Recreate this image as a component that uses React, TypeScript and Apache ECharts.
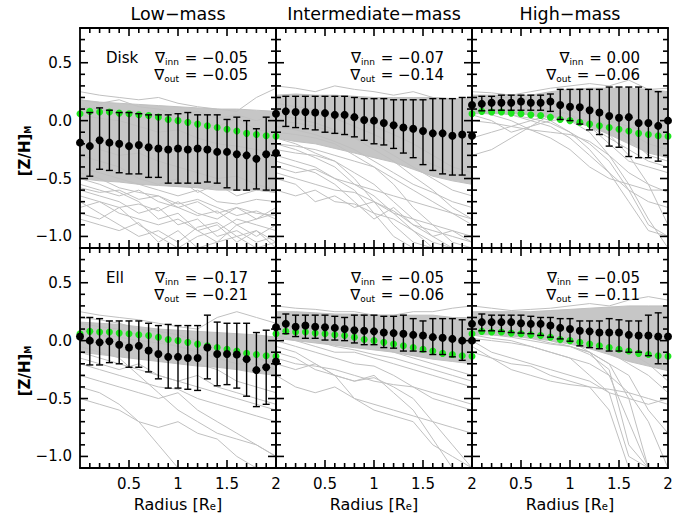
import React, { useEffect, useRef } from 'react';
import * as echarts from 'echarts';

// ---------- data ----------
const RADIUS = [0, 0.1, 0.2, 0.3, 0.4, 0.5, 0.6, 0.7, 0.8, 0.9, 1.0, 1.1, 1.2, 1.3, 1.4, 1.5, 1.6, 1.7, 1.8, 1.9, 2.0];
const ERR_RADIUS = [0.1, 0.2, 0.3, 0.4, 0.5, 0.6, 0.7, 0.8, 0.9, 1.0, 1.1, 1.2, 1.3, 1.4, 1.5, 1.6, 1.7, 1.8, 1.9];
const PROFILE_RADIUS = [0, 0.2, 0.4, 0.6, 0.8, 1.0, 1.2, 1.4, 1.6, 1.8, 2.0];

const COLUMN_TITLES = ['Low\u2212mass', 'Intermediate\u2212mass', 'High\u2212mass'];
const ROW_LABELS = ['Disk', 'Ell'];
const GRAD_INN = ['\u22120.05', '\u22120.07', '0.00', '\u22120.17', '\u22120.05', '\u22120.05'];
const GRAD_OUT = ['\u22120.05', '\u22120.14', '\u22120.06', '\u22120.21', '\u22120.06', '\u22120.11'];
const Y_TICK_LABELS = [-1.0, -0.5, 0.0, 0.5];
const Y_MAJOR_TICKS = [-1.0, -0.5, 0.0, 0.5];
const Y_MINOR_TICKS = [-0.9, -0.8, -0.7, -0.6, -0.4, -0.3, -0.2, -0.1, 0.1, 0.2, 0.3, 0.4, 0.6, 0.7];
const X_TICK_LABELS = [0.5, 1, 1.5, 2];
const X_MAJOR_TICKS = [0.5, 1, 1.5];
const X_MINOR_TICKS = [0.1, 0.2, 0.3, 0.4, 0.6, 0.7, 0.8, 0.9, 1.1, 1.2, 1.3, 1.4, 1.6, 1.7, 1.8, 1.9];

// reference (green) profile
const GREEN = [0.06, 0.08, 0.075, 0.075, 0.065, 0.06, 0.05, 0.045, 0.03, 0.01, 0.0, -0.015, -0.03, -0.045, -0.06, -0.075, -0.09, -0.11, -0.12, -0.13, -0.135];

// Disk, low mass
const TL_MEAN = [-0.19, -0.22, -0.17, -0.19, -0.2, -0.22, -0.21, -0.23, -0.24, -0.25, -0.24, -0.25, -0.24, -0.25, -0.27, -0.27, -0.29, -0.3, -0.33, -0.29, -0.28];
const TL_HI = [0.07, 0.11, 0.09, 0.07, 0.07, 0.06, 0.05, 0.05, 0.05, 0.06, 0.07, 0.05, 0.05, 0.05, 0.01, 0.03, 0.0, -0.07, 0.03];
const TL_LO = [-0.48, -0.42, -0.43, -0.45, -0.46, -0.46, -0.49, -0.49, -0.54, -0.54, -0.54, -0.54, -0.53, -0.54, -0.58, -0.6, -0.6, -0.59, -0.6];
const TL_BAND_UP = [0.18, 0.16, 0.15, 0.14, 0.13, 0.12, 0.11, 0.1, 0.1, 0.09, 0.08];
const TL_BAND_LO = [-0.5, -0.52, -0.53, -0.55, -0.56, -0.57, -0.58, -0.6, -0.6, -0.6, -0.62];
const TL_PROFILES = [
  [0.25, 0.22, 0.2, 0.18, 0.2, 0.15, 0.12, 0.1, 0.08, 0.2, 0.28],
  [0.18, 0.15, 0.18, 0.12, 0.1, 0.05, 0.08, 0.02, 0.05, 0.0, 0.05],
  [-0.55, -0.6, -0.65, -0.6, -0.7, -0.75, -0.7, -0.8, -0.75, -0.85, -0.8],
  [-0.6, -0.65, -0.7, -0.8, -0.75, -0.9, -0.85, -1.0, -0.95, -1.05, -1.0],
  [-0.5, -0.55, -0.62, -0.7, -0.85, -0.8, -0.95, -0.9, -1.05, -0.95, -1.1],
  [-0.65, -0.7, -0.75, -0.72, -0.78, -0.7, -0.8, -0.85, -0.75, -0.8, -0.82],
  [-0.4, -0.45, -0.5, -0.55, -0.6, -0.65, -0.6, -0.7, -0.72, -0.68, -0.7],
  [-0.7, -0.8, -0.9, -1.0, -0.95, -1.05, -0.92, -0.88, -1.0, -0.95, -1.05],
  [-0.3, -0.35, -0.4, -0.5, -0.55, -0.5, -0.62, -0.55, -0.65, -0.6, -0.62],
  [0.05, 0.02, 0.0, -0.05, -0.1, -0.08, -0.15, -0.2, -0.22, -0.25, -0.28],
  [-0.8, -0.85, -0.75, -0.9, -1.0, -1.1, -1.0, -0.95, -0.85, -0.9, -0.95],
  [-0.2, -0.25, -0.3, -0.28, -0.35, -0.4, -0.45, -0.5, -0.48, -0.55, -0.6],
  [-0.75, -0.7, -0.8, -0.85, -0.9, -0.85, -0.95, -1.05, -0.9, -1.0, -0.9],
  [-0.45, -0.5, -0.58, -0.62, -0.65, -0.72, -0.68, -0.75, -0.82, -0.78, -0.85],
  [-0.85, -0.9, -0.95, -0.88, -1.05, -0.95, -1.1, -1.05, -1.0, -1.1, -1.05],
  [0.12, 0.1, 0.05, 0.08, 0.02, 0.0, -0.02, -0.05, 0.02, -0.08, -0.1],
  [-0.58, -0.62, -0.6, -0.68, -0.65, -0.75, -0.82, -0.78, -0.9, -0.85, -0.75],
];

// Disk, intermediate mass
const TM_MEAN = [0.06, 0.08, 0.075, 0.075, 0.07, 0.065, 0.05, 0.05, 0.03, 0.005, 0.0, -0.02, -0.04, -0.06, -0.07, -0.09, -0.11, -0.11, -0.13, -0.12, -0.13];
const TM_HI = [0.21, 0.21, 0.21, 0.21, 0.21, 0.21, 0.21, 0.2, 0.19, 0.19, 0.19, 0.18, 0.18, 0.18, 0.18, 0.19, 0.19, 0.19, 0.2];
const TM_LO = [-0.05, -0.06, -0.07, -0.08, -0.1, -0.11, -0.12, -0.14, -0.17, -0.2, -0.21, -0.24, -0.28, -0.32, -0.38, -0.43, -0.46, -0.47, -0.47];
const TM_BAND_UP = [0.22, 0.23, 0.22, 0.22, 0.21, 0.2, 0.2, 0.2, 0.2, 0.19, 0.18];
const TM_BAND_LO = [-0.15, -0.18, -0.2, -0.24, -0.28, -0.32, -0.36, -0.42, -0.48, -0.52, -0.55];
const TM_PROFILES = [
  [0.3, 0.28, 0.25, 0.3, 0.27, 0.25, 0.22, 0.25, 0.2, 0.18, 0.2],
  [-0.2, -0.22, -0.25, -0.3, -0.35, -0.4, -0.5, -0.6, -0.7, -0.8, -0.85],
  [-0.3, -0.35, -0.4, -0.5, -0.6, -0.8, -1.0, -1.1, -1.1, -1.1, -1.1],
  [-0.25, -0.28, -0.3, -0.35, -0.45, -0.55, -0.7, -0.85, -1.0, -1.1, -1.1],
  [-0.1, -0.12, -0.15, -0.2, -0.3, -0.4, -0.55, -0.75, -0.9, -1.05, -1.1],
  [-0.4, -0.45, -0.42, -0.5, -0.55, -0.6, -0.65, -0.7, -0.75, -0.8, -0.9],
  [-0.5, -0.55, -0.7, -0.65, -0.75, -0.7, -0.8, -0.85, -0.9, -0.95, -1.0],
  [-0.15, -0.2, -0.28, -0.35, -0.5, -0.7, -0.9, -1.05, -1.1, -1.1, -1.1],
  [0.0, -0.02, -0.05, -0.1, -0.15, -0.2, -0.3, -0.4, -0.5, -0.6, -0.65],
  [-0.35, -0.4, -0.45, -0.55, -0.7, -0.85, -0.75, -0.9, -1.0, -0.95, -1.05],
  [-0.05, -0.08, -0.12, -0.18, -0.25, -0.35, -0.45, -0.55, -0.62, -0.7, -0.75],
  [0.1, 0.08, 0.05, 0.02, -0.05, -0.12, -0.2, -0.3, -0.38, -0.45, -0.5],
  [-0.2, -0.25, -0.32, -0.4, -0.55, -0.65, -0.8, -0.95, -1.1, -1.1, -1.1],
  [-0.45, -0.5, -0.55, -0.6, -0.62, -0.7, -0.78, -0.9, -0.95, -1.0, -1.05],
  [0.05, 0.02, -0.02, -0.08, -0.15, -0.25, -0.35, -0.48, -0.6, -0.75, -0.85],
  [-0.6, -0.65, -0.6, -0.7, -0.72, -0.8, -0.85, -0.95, -1.05, -1.1, -1.1],
  [0.15, 0.12, 0.1, 0.05, 0.0, -0.05, -0.12, -0.2, -0.3, -0.4, -0.45],
];

// Disk, high mass
const TR_MEAN = [0.135, 0.145, 0.155, 0.155, 0.155, 0.165, 0.155, 0.155, 0.165, 0.135, 0.12, 0.115, 0.09, 0.07, 0.04, 0.025, 0.03, -0.02, -0.02, -0.045, 0.0];
const TR_HI = [0.21, 0.21, 0.22, 0.22, 0.22, 0.22, 0.22, 0.23, 0.27, 0.27, 0.27, 0.27, 0.27, 0.29, 0.29, 0.29, 0.29, 0.27, 0.25];
const TR_LO = [0.085, 0.09, 0.09, 0.09, 0.09, 0.09, 0.09, 0.08, 0.01, 0.0, -0.03, -0.08, -0.12, -0.22, -0.23, -0.31, -0.32, -0.32, -0.35];
const TR_BAND_UP = [0.22, 0.22, 0.22, 0.22, 0.25, 0.27, 0.28, 0.28, 0.28, 0.27, 0.25];
const TR_BAND_LO = [0.06, 0.06, 0.06, 0.05, 0.03, 0.0, -0.05, -0.12, -0.2, -0.28, -0.32];
const TR_PROFILES = [
  [0.25, 0.24, 0.22, 0.25, 0.28, 0.3, 0.32, 0.3, 0.35, 0.27, 0.28],
  [-0.3, -0.25, -0.15, -0.05, 0.05, 0.08, 0.05, 0.0, -0.05, -0.1, -0.15],
  [0.05, 0.0, -0.1, -0.05, 0.0, 0.02, 0.0, -0.05, -0.1, -0.2, -0.25],
  [0.1, 0.08, 0.05, 0.0, -0.05, -0.15, -0.3, -0.45, -0.6, -0.7, -0.75],
  [0.12, 0.1, 0.08, 0.05, 0.0, -0.1, -0.25, -0.45, -0.7, -0.95, -1.0],
  [0.08, 0.07, 0.05, 0.02, -0.02, -0.1, -0.2, -0.35, -0.6, -0.9, -1.0],
  [0.1, 0.05, 0.0, -0.08, -0.15, -0.25, -0.4, -0.5, -0.55, -0.6, -0.6],
  [0.15, 0.14, 0.12, 0.1, 0.05, 0.0, -0.1, -0.3, -0.55, -0.85, -1.1],
  [-0.15, -0.1, -0.05, 0.0, 0.05, 0.0, -0.05, -0.2, -0.35, -0.4, -0.45],
  [0.2, 0.18, 0.15, 0.12, 0.1, 0.05, -0.05, -0.15, -0.25, -0.35, -0.4],
  [0.18, 0.17, 0.15, 0.13, 0.1, 0.05, -0.02, -0.12, -0.3, -0.55, -0.9],
  [0.0, -0.02, -0.05, -0.08, -0.1, -0.12, -0.18, -0.3, -0.45, -0.55, -0.62],
  [0.22, 0.2, 0.2, 0.18, 0.15, 0.1, 0.05, -0.05, -0.15, -0.3, -0.35],
];

// Ell, low mass
const BL_MEAN = [0.035, 0.0, -0.015, -0.005, -0.035, -0.06, -0.045, -0.085, -0.115, -0.14, -0.14, -0.15, -0.15, -0.06, -0.115, -0.115, -0.12, -0.16, -0.255, -0.23, -0.18];
const BL_HI = [0.2, 0.19, 0.17, 0.17, 0.17, 0.17, 0.15, 0.13, 0.14, 0.13, 0.13, 0.13, 0.22, 0.16, 0.15, 0.15, 0.15, 0.07, 0.09];
const BL_LO = [-0.21, -0.21, -0.19, -0.2, -0.23, -0.23, -0.27, -0.33, -0.41, -0.41, -0.42, -0.43, -0.33, -0.39, -0.38, -0.41, -0.48, -0.57, -0.55];
const BL_BAND_UP = [0.16, 0.15, 0.14, 0.12, 0.1, 0.09, 0.08, 0.07, 0.06, 0.05, 0.03];
const BL_BAND_LO = [-0.1, -0.12, -0.14, -0.16, -0.18, -0.2, -0.22, -0.23, -0.25, -0.28, -0.3];
const BL_PROFILES = [
  [0.25, 0.22, 0.2, 0.18, 0.15, 0.12, 0.1, 0.2, 0.25, 0.2, 0.15],
  [-0.4, -0.45, -0.55, -0.7, -0.9, -1.1, -1.1, -1.1, -1.1, -1.1, -1.1],
  [-0.5, -0.55, -0.6, -0.7, -0.75, -0.7, -0.8, -0.85, -1.0, -1.1, -1.1],
  [-0.3, -0.35, -0.4, -0.45, -0.5, -0.45, -0.6, -0.7, -0.8, -0.9, -1.0],
  [-0.2, -0.25, -0.3, -0.35, -0.4, -0.42, -0.5, -0.55, -0.6, -0.65, -0.7],
  [0.1, 0.05, 0.0, -0.05, -0.1, -0.15, -0.2, -0.25, -0.35, -0.4, -0.45],
  [-0.1, -0.15, -0.2, -0.25, -0.3, -0.35, -0.4, -0.45, -0.5, -0.55, -0.6],
  [0.15, 0.12, 0.1, 0.05, 0.0, -0.05, -0.1, -0.15, -0.2, -0.2, -0.25],
  [-0.05, -0.1, -0.15, -0.3, -0.45, -0.6, -0.7, -0.8, -0.85, -0.9, -1.0],
  [0.05, 0.05, 0.03, 0.0, -0.02, -0.05, -0.08, -0.1, -0.12, -0.15, -0.2],
  [0.2, 0.18, 0.15, 0.1, 0.08, 0.05, 0.0, -0.05, -0.1, -0.15, -0.2],
  [-0.15, -0.2, -0.25, -0.2, -0.3, -0.35, -0.3, -0.4, -0.45, -0.5, -0.55],
];

// Ell, intermediate mass
const BM_MEAN = [0.115, 0.145, 0.12, 0.13, 0.12, 0.115, 0.11, 0.1, 0.09, 0.085, 0.08, 0.07, 0.065, 0.06, 0.05, 0.045, 0.03, 0.025, 0.015, 0.0, 0.0];
const BM_HI = [0.23, 0.22, 0.22, 0.22, 0.22, 0.21, 0.2, 0.22, 0.22, 0.22, 0.21, 0.21, 0.22, 0.19, 0.17, 0.19, 0.19, 0.19, 0.18];
const BM_LO = [0.06, 0.035, 0.02, 0.02, 0.005, 0.005, 0.0, -0.02, -0.035, -0.035, -0.06, -0.065, -0.09, -0.09, -0.095, -0.12, -0.12, -0.14, -0.17];
const BM_BAND_UP = [0.25, 0.25, 0.24, 0.23, 0.23, 0.22, 0.22, 0.22, 0.22, 0.2, 0.2];
const BM_BAND_LO = [0.02, 0.0, -0.02, -0.04, -0.06, -0.08, -0.1, -0.13, -0.16, -0.18, -0.2];
const BM_PROFILES = [
  [0.3, 0.28, 0.27, 0.25, 0.25, 0.22, 0.22, 0.25, 0.25, 0.28, 0.3],
  [-0.1, -0.15, -0.25, -0.3, -0.35, -0.32, -0.4, -0.5, -0.7, -0.9, -1.1],
  [-0.05, -0.1, -0.2, -0.3, -0.35, -0.3, -0.45, -0.6, -0.85, -1.1, -1.1],
  [-0.3, -0.4, -0.45, -0.4, -0.5, -0.55, -0.6, -0.65, -0.7, -0.75, -0.8],
  [0.0, -0.05, -0.1, -0.15, -0.2, -0.22, -0.3, -0.4, -0.5, -0.55, -0.6],
  [-0.2, -0.25, -0.2, -0.3, -0.5, -0.6, -0.65, -0.7, -0.9, -1.0, -1.1],
  [0.05, 0.0, -0.05, -0.1, -0.1, -0.15, -0.2, -0.25, -0.3, -0.35, -0.4],
  [0.15, 0.12, 0.1, 0.05, 0.0, -0.05, -0.1, -0.15, -0.2, -0.25, -0.3],
  [0.1, 0.05, 0.0, -0.05, -0.08, -0.12, -0.15, -0.2, -0.25, -0.3, -0.35],
  [-0.15, -0.2, -0.22, -0.25, -0.3, -0.35, -0.38, -0.4, -0.45, -0.5, -0.55],
];

// Ell, high mass
const BR_MEAN = [0.145, 0.16, 0.16, 0.16, 0.16, 0.15, 0.145, 0.145, 0.13, 0.11, 0.1, 0.085, 0.08, 0.07, 0.07, 0.07, 0.05, 0.045, 0.045, 0.035, 0.035];
const BR_HI = [0.23, 0.22, 0.22, 0.22, 0.22, 0.21, 0.2, 0.2, 0.19, 0.19, 0.17, 0.17, 0.17, 0.19, 0.18, 0.17, 0.17, 0.22, 0.24];
const BR_LO = [0.085, 0.085, 0.08, 0.07, 0.065, 0.06, 0.045, 0.03, 0.015, -0.005, -0.045, -0.06, -0.07, -0.09, -0.09, -0.1, -0.1, -0.13, -0.2];
const BR_BAND_UP = [0.25, 0.25, 0.25, 0.25, 0.26, 0.27, 0.28, 0.29, 0.3, 0.3, 0.3];
const BR_BAND_LO = [0.05, 0.05, 0.04, 0.02, 0.0, -0.03, -0.07, -0.12, -0.18, -0.22, -0.26];
const BR_PROFILES = [
  [0.3, 0.28, 0.26, 0.27, 0.28, 0.3, 0.32, 0.3, 0.35, 0.38, 0.35],
  [0.0, -0.1, -0.15, -0.2, -0.25, -0.3, -0.35, -0.45, -0.5, -0.55, -0.5],
  [0.05, 0.02, 0.0, -0.05, -0.1, -0.15, -0.3, -0.45, -1.0, -1.1, -1.1],
  [0.1, 0.08, 0.05, 0.02, -0.02, -0.05, -0.1, -0.2, -0.5, -1.1, -1.1],
  [0.08, 0.05, 0.03, 0.0, -0.03, -0.05, -0.1, -0.3, -0.7, -1.1, -1.1],
  [0.12, 0.1, 0.08, 0.05, 0.02, 0.0, -0.1, -0.2, -0.3, -0.6, -0.8],
  [-0.1, -0.15, -0.2, -0.22, -0.3, -0.35, -0.4, -0.6, -1.1, -1.1, -1.1],
  [0.15, 0.12, 0.1, 0.08, 0.05, 0.02, 0.0, -0.1, -0.2, -0.3, -0.45],
  [-0.05, -0.15, -0.25, -0.3, -0.35, -0.38, -0.4, -0.42, -0.45, -0.5, -0.55],
  [0.02, 0.0, -0.02, -0.05, -0.1, -0.15, -0.2, -0.3, -0.45, -0.7, -1.1],
  [0.12, 0.1, 0.08, 0.05, 0.0, -0.05, -0.12, -0.25, -0.9, -1.1, -1.1],
  [0.2, 0.18, 0.15, 0.12, 0.1, 0.08, 0.05, 0.0, -0.1, -0.2, -0.35],
];

const PANELS = [
  { mean: TL_MEAN, hi: TL_HI, lo: TL_LO, up: TL_BAND_UP, down: TL_BAND_LO, profiles: TL_PROFILES, green: true },
  { mean: TM_MEAN, hi: TM_HI, lo: TM_LO, up: TM_BAND_UP, down: TM_BAND_LO, profiles: TM_PROFILES, green: false },
  { mean: TR_MEAN, hi: TR_HI, lo: TR_LO, up: TR_BAND_UP, down: TR_BAND_LO, profiles: TR_PROFILES, green: true },
  { mean: BL_MEAN, hi: BL_HI, lo: BL_LO, up: BL_BAND_UP, down: BL_BAND_LO, profiles: BL_PROFILES, green: true },
  { mean: BM_MEAN, hi: BM_HI, lo: BM_LO, up: BM_BAND_UP, down: BM_BAND_LO, profiles: BM_PROFILES, green: true },
  { mean: BR_MEAN, hi: BR_HI, lo: BR_LO, up: BR_BAND_UP, down: BR_BAND_LO, profiles: BR_PROFILES, green: true },
];

// ---------- layout / style ----------
const FONT = 'DejaVu Sans';
const GRID_LEFT = 80;
const GRID_TOP = 28;
const GRID_W = 196;
const GRID_H = 220;
const X_MIN = 0;
const X_MAX = 2;
const Y_MIN = -1.1;
const Y_MAX = 0.8;
const GRAY = '#c0c0c0';
const BAND = '#c6c6c6';
const GREEN_COLOR = '#1ee61e';
const MAJOR_PX = 8;
const MINOR_PX = 5;
const PX_PER_X = GRID_W / (X_MAX - X_MIN);
const PX_PER_Y = GRID_H / (Y_MAX - Y_MIN);

const fmtY = (v: number) => v.toFixed(1).replace('-', '\u2212');
const fmtX = (v: number) => String(Math.round(v * 10) / 10);

// tick table rows: [x, y, dx, dy] in data units (start point and inward offset)
function tickRows() {
  const rows: number[][] = [];
  const addX = (v: number, px: number) => {
    const d = px / PX_PER_Y;
    rows.push([v, Y_MIN, 0, d], [v, Y_MAX, 0, -d]);
  };
  const addY = (v: number, px: number) => {
    const d = px / PX_PER_X;
    rows.push([X_MIN, v, d, 0], [X_MAX, v, -d, 0]);
  };
  X_MAJOR_TICKS.forEach((v) => addX(v, MAJOR_PX));
  X_MINOR_TICKS.forEach((v) => addX(v, MINOR_PX));
  Y_MAJOR_TICKS.forEach((v) => addY(v, MAJOR_PX));
  Y_MINOR_TICKS.forEach((v) => addY(v, MINOR_PX));
  return rows;
}

function buildOption() {
  const grid: any[] = [];
  const xAxis: any[] = [];
  const yAxis: any[] = [];
  const series: any[] = [];
  const graphic: any[] = [];
  const frame = { show: true, onZero: false, lineStyle: { color: '#000', width: 1.8 } };
  const ticks = tickRows();

  PANELS.forEach((p, g) => {
    const row = Math.floor(g / 3);
    const col = g % 3;
    const left = GRID_LEFT + col * GRID_W;
    const top = GRID_TOP + row * GRID_H;
    grid.push({ left, top, width: GRID_W, height: GRID_H });

    const xb = { gridIndex: g, type: 'value', min: X_MIN, max: X_MAX, interval: 0.5, splitLine: { show: false }, axisTick: { show: false }, axisLine: frame, z: 6 };
    xAxis.push({
      ...xb, position: 'bottom',
      axisLabel: row === 1
        ? { show: true, customValues: X_TICK_LABELS, formatter: fmtX, margin: 8, color: '#000', fontSize: 15, fontFamily: FONT }
        : { show: false },
    });
    xAxis.push({ ...xb, position: 'top', axisLabel: { show: false } });

    const yb = { gridIndex: g, type: 'value', min: Y_MIN, max: Y_MAX, interval: 0.1, splitLine: { show: false }, axisTick: { show: false }, axisLine: frame, z: 6 };
    yAxis.push({
      ...yb, position: 'left',
      axisLabel: col === 0
        ? { show: true, customValues: Y_TICK_LABELS, formatter: fmtY, margin: 8, color: '#000', fontSize: 15, fontFamily: FONT }
        : { show: false },
    });
    yAxis.push({ ...yb, position: 'right', axisLabel: { show: false } });

    const xi = g * 2;
    const yi = g * 2;

    // dense band of profiles
    series.push({
      type: 'custom', xAxisIndex: xi, yAxisIndex: yi, clip: true, silent: true, z: 1,
      data: [[0, 0]],
      renderItem: (_params: any, api: any) => {
        const pts: number[][] = [];
        for (let i = 0; i < PROFILE_RADIUS.length; i++) pts.push(api.coord([PROFILE_RADIUS[i], p.up[i]]));
        for (let i = PROFILE_RADIUS.length - 1; i >= 0; i--) pts.push(api.coord([PROFILE_RADIUS[i], p.down[i]]));
        return { type: 'polygon', shape: { points: pts }, style: { fill: BAND, stroke: GRAY, lineWidth: 1 } };
      },
    });

    // individual profiles
    p.profiles.forEach((prof) => {
      series.push({
        type: 'line', xAxisIndex: xi, yAxisIndex: yi, silent: true, z: 2,
        symbol: 'none', clip: true,
        lineStyle: { color: GRAY, width: 1, opacity: 1 },
        data: PROFILE_RADIUS.map((r, i) => [r, prof[i]]),
      });
    });

    // green reference
    if (p.green) {
      series.push({
        type: 'scatter', xAxisIndex: xi, yAxisIndex: yi, silent: true, z: 3, clip: false,
        symbol: 'circle', symbolSize: 7,
        itemStyle: { color: GREEN_COLOR, opacity: 1 },
        data: RADIUS.map((r, i) => [r, GREEN[i]]),
      });
    }

    // error bars
    series.push({
      type: 'custom', xAxisIndex: xi, yAxisIndex: yi, silent: true, z: 4, clip: false,
      encode: { x: 0, y: [1, 2] },
      data: ERR_RADIUS.map((r, i) => [r, p.lo[i], p.hi[i]]),
      renderItem: (_params: any, api: any) => {
        const x = api.value(0);
        const a = api.coord([x, api.value(2)]);
        const b = api.coord([x, api.value(1)]);
        const w = 3.5;
        const st = { stroke: '#000', lineWidth: 1.4 };
        return {
          type: 'group',
          children: [
            { type: 'line', shape: { x1: a[0], y1: a[1], x2: b[0], y2: b[1] }, style: st },
            { type: 'line', shape: { x1: a[0] - w, y1: a[1], x2: a[0] + w, y2: a[1] }, style: st },
            { type: 'line', shape: { x1: b[0] - w, y1: b[1], x2: b[0] + w, y2: b[1] }, style: st },
          ],
        };
      },
    });

    // mean points
    series.push({
      type: 'scatter', xAxisIndex: xi, yAxisIndex: yi, silent: true, z: 5, clip: false,
      symbol: 'circle', symbolSize: 8,
      itemStyle: { color: '#000', opacity: 1 },
      data: RADIUS.map((r, i) => [r, p.mean[i]]),
    });

    // inward frame ticks, drawn the same way as the error bars
    series.push({
      type: 'custom', xAxisIndex: xi, yAxisIndex: yi, silent: true, z: 8, clip: false,
      encode: { x: [0, 2], y: [1, 3] },
      data: ticks,
      renderItem: (_params: any, api: any) => {
        const x = api.value(0);
        const y = api.value(1);
        const a = api.coord([x, y]);
        const b = api.coord([x + api.value(2), y + api.value(3)]);
        return { type: 'line', shape: { x1: a[0], y1: a[1], x2: b[0], y2: b[1] }, style: { stroke: '#000', lineWidth: 1.6 } };
      },
    });

    // annotations
    const subRich = { s: { fontSize: 9, fontFamily: FONT, fill: '#000', padding: [8, 1, 0, 0] } };
    if (col === 0) {
      graphic.push({ type: 'text', x: left + 26, y: top + 30, z: 10, style: { text: ROW_LABELS[row], fontSize: 15, fontFamily: FONT, fill: '#000', align: 'left', verticalAlign: 'middle' } });
    }
    [[GRAD_INN[g], 'inn', 30], [GRAD_OUT[g], 'out', 47]].forEach(([val, sub, dy]: any) => {
      graphic.push({ type: 'text', x: left + 168, y: top + dy, z: 10, style: { text: '\u2207{s|' + sub + '} = ' + val, rich: subRich, fontSize: 15, fontFamily: FONT, fill: '#000', align: 'right', verticalAlign: 'middle' } });
    });

    if (row === 0) {
      graphic.push({ type: 'text', x: left + GRID_W / 2, y: 14, z: 10, style: { text: COLUMN_TITLES[col], fontSize: 17.5, fontFamily: FONT, fill: '#000', align: 'center', verticalAlign: 'middle' } });
    }
    if (row === 1) {
      graphic.push({ type: 'text', x: left + GRID_W / 2, y: 504, z: 10, style: { text: 'Radius [R{s|e}]', rich: { s: { fontSize: 10, fontFamily: FONT, fill: '#000', padding: [5, 0, 0, 0] } }, fontSize: 16, fontFamily: FONT, fill: '#000', align: 'center', verticalAlign: 'middle' } });
    }
    if (col === 0) {
      graphic.push({ type: 'text', x: 25, y: top + GRID_H / 2 + 13, rotation: Math.PI / 2, z: 10, style: { text: '[Z/H]{s|M}', rich: { s: { fontSize: 8, fontWeight: 'bold', fontFamily: FONT, fill: '#000', padding: [7, 0, 0, 0] } }, fontSize: 15, fontWeight: 'bold', fontFamily: FONT, fill: '#000', align: 'center', verticalAlign: 'middle' } });
    }
  });

  return { animation: false, backgroundColor: '#fff', grid, xAxis, yAxis, series, graphic };
}

export default function App() {
  const ref = useRef<HTMLDivElement>(null);
  useEffect(() => {
    if (!ref.current) return;
    const chart = echarts.init(ref.current, undefined, { renderer: 'svg' });
    chart.setOption(buildOption() as any);
    return () => chart.dispose();
  }, []);
  return <div ref={ref} style={{ position: 'fixed', left: 0, top: 0, width: 691, height: 516, background: '#fff' }} />;
}
